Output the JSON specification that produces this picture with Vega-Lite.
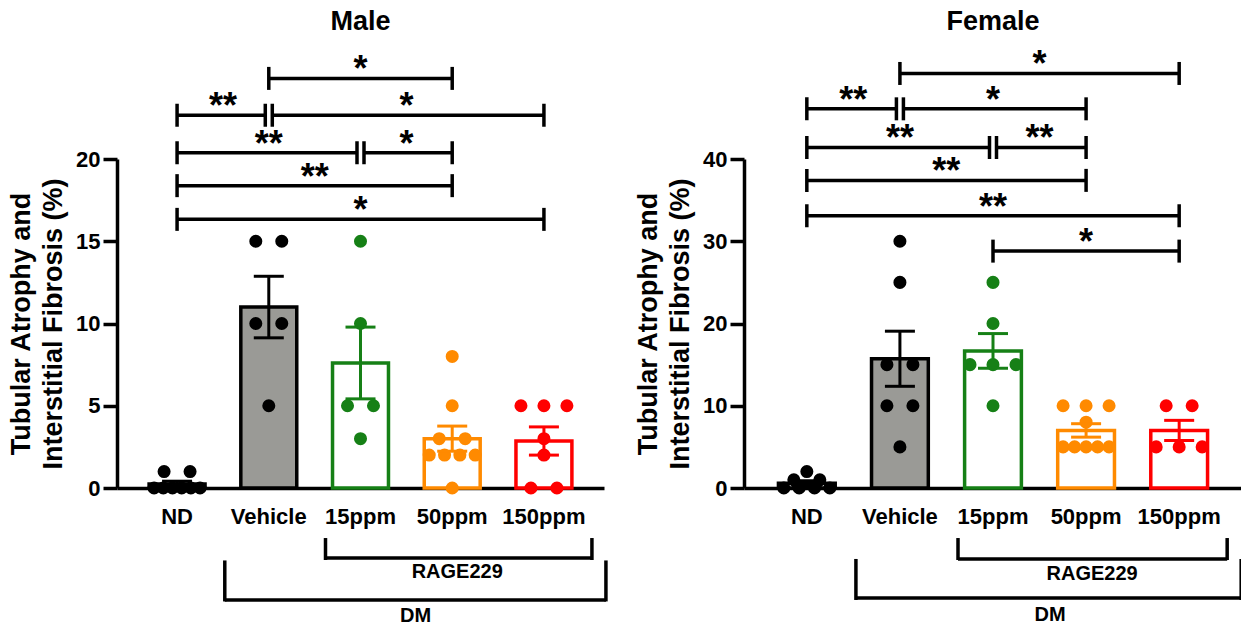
{
  "$schema": "https://vega.github.io/schema/vega-lite/v6.json",
  "background": "white",
  "padding": {"left": 7, "top": 8, "right": 0, "bottom": 0},
  "config": {
    "font": "Liberation Sans",
    "view": {"stroke": null},
    "axis": {"labelFont": "Liberation Sans", "labelFontWeight": "bold", "labelFontSize": 22, "labelColor": "black", "titleFont": "Liberation Sans", "titleFontWeight": "bold", "titleFontSize": 27, "titleColor": "black", "domainColor": "black", "domainWidth": 3.5, "tickColor": "black", "tickWidth": 3.5, "grid": false},
    "title": {"font": "Liberation Sans", "fontWeight": "bold", "fontSize": 27, "color": "black"},
    "concat": {"spacing": 26}
  },
  "datasets": {
    "maleDots": [
      {"group": "ND", "value": 1}, {"group": "ND", "value": 1}, {"group": "ND", "value": 0}, {"group": "ND", "value": 0}, {"group": "ND", "value": 0}, {"group": "ND", "value": 0}, {"group": "ND", "value": 0}, {"group": "ND", "value": 0},
      {"group": "Vehicle", "value": 15}, {"group": "Vehicle", "value": 15}, {"group": "Vehicle", "value": 10}, {"group": "Vehicle", "value": 10}, {"group": "Vehicle", "value": 5},
      {"group": "15ppm", "value": 15}, {"group": "15ppm", "value": 10}, {"group": "15ppm", "value": 5}, {"group": "15ppm", "value": 5}, {"group": "15ppm", "value": 3},
      {"group": "50ppm", "value": 8}, {"group": "50ppm", "value": 5}, {"group": "50ppm", "value": 3}, {"group": "50ppm", "value": 3}, {"group": "50ppm", "value": 2}, {"group": "50ppm", "value": 2}, {"group": "50ppm", "value": 2}, {"group": "50ppm", "value": 2}, {"group": "50ppm", "value": 0},
      {"group": "150ppm", "value": 5}, {"group": "150ppm", "value": 5}, {"group": "150ppm", "value": 5}, {"group": "150ppm", "value": 3}, {"group": "150ppm", "value": 2}, {"group": "150ppm", "value": 0}, {"group": "150ppm", "value": 0}
    ],
    "femaleDots": [
      {"group": "ND", "value": 2}, {"group": "ND", "value": 1}, {"group": "ND", "value": 1}, {"group": "ND", "value": 0}, {"group": "ND", "value": 0}, {"group": "ND", "value": 0}, {"group": "ND", "value": 0},
      {"group": "Vehicle", "value": 30}, {"group": "Vehicle", "value": 25}, {"group": "Vehicle", "value": 15}, {"group": "Vehicle", "value": 15}, {"group": "Vehicle", "value": 10}, {"group": "Vehicle", "value": 10}, {"group": "Vehicle", "value": 5},
      {"group": "15ppm", "value": 25}, {"group": "15ppm", "value": 20}, {"group": "15ppm", "value": 15}, {"group": "15ppm", "value": 15}, {"group": "15ppm", "value": 15}, {"group": "15ppm", "value": 10},
      {"group": "50ppm", "value": 10}, {"group": "50ppm", "value": 10}, {"group": "50ppm", "value": 10}, {"group": "50ppm", "value": 8}, {"group": "50ppm", "value": 5}, {"group": "50ppm", "value": 5}, {"group": "50ppm", "value": 5}, {"group": "50ppm", "value": 5}, {"group": "50ppm", "value": 5},
      {"group": "150ppm", "value": 10}, {"group": "150ppm", "value": 10}, {"group": "150ppm", "value": 5}, {"group": "150ppm", "value": 5}, {"group": "150ppm", "value": 5}
    ],
    "maleSig": [
      {"from": "Vehicle", "to": "50ppm", "level": 24.9, "sig": "*", "at": "15ppm"},
      {"from": "ND", "to": "Vehicle", "level": 22.66, "sig": "**", "after": "ND", "join": "to"},
      {"from": "Vehicle", "to": "150ppm", "level": 22.66, "sig": "*", "after": "15ppm", "join": "from"},
      {"from": "ND", "to": "15ppm", "level": 20.38, "sig": "**", "at": "Vehicle", "join": "to"},
      {"from": "15ppm", "to": "50ppm", "level": 20.38, "sig": "*", "after": "15ppm", "join": "from"},
      {"from": "ND", "to": "50ppm", "level": 18.38, "sig": "**", "after": "Vehicle"},
      {"from": "ND", "to": "150ppm", "level": 16.33, "sig": "*", "at": "15ppm"}
    ],
    "femaleSig": [
      {"from": "Vehicle", "to": "150ppm", "level": 50.4, "sig": "*", "after": "15ppm"},
      {"from": "ND", "to": "Vehicle", "level": 46.1, "sig": "**", "after": "ND", "join": "to"},
      {"from": "Vehicle", "to": "50ppm", "level": 46.1, "sig": "*", "at": "15ppm", "join": "from"},
      {"from": "ND", "to": "15ppm", "level": 41.4, "sig": "**", "at": "Vehicle", "join": "to"},
      {"from": "15ppm", "to": "50ppm", "level": 41.4, "sig": "**", "after": "15ppm", "join": "from"},
      {"from": "ND", "to": "50ppm", "level": 37.4, "sig": "**", "after": "Vehicle"},
      {"from": "ND", "to": "150ppm", "level": 33.1, "sig": "**", "at": "15ppm"},
      {"from": "15ppm", "to": "150ppm", "level": 28.8, "sig": "*", "at": "50ppm"}
    ]
  },
  "hconcat": [
    {
      "title": {"text": "Male", "offset": 16},
      "width": 487,
      "height": 329,
      "resolve": {"axis": {"x": "independent", "y": "independent"}, "scale": {"xOffset": "independent"}},
      "layer": [
        {
          "data": {"name": "maleDots"},
          "mark": {"type": "bar", "strokeWidth": 3.5, "width": {"band": 1}},
          "encoding": {
            "x": {"field": "group", "type": "nominal", "scale": {"domain": ["ND", "Vehicle", "15ppm", "50ppm", "150ppm"], "paddingInner": 0.39, "paddingOuter": 0.35}, "axis": {"title": null, "ticks": false, "tickSize": 0, "labelPadding": 18, "labelAngle": 0}},
            "y": {"aggregate": "mean", "field": "value", "type": "quantitative", "scale": {"domain": [0, 20], "nice": false}, "axis": {"values": [0, 5, 10, 15, 20], "title": ["Tubular Atrophy and", "Interstitial Fibrosis (%)"], "tickSize": 14, "labelPadding": 3, "titlePadding": 8, "titleLineHeight": 32}},
            "fill": {"field": "group", "type": "nominal", "scale": {"domain": ["ND", "Vehicle", "15ppm", "50ppm", "150ppm"], "range": ["#ffffff", "#9a9a96", "#ffffff", "#ffffff", "#ffffff"]}, "legend": null},
            "stroke": {"field": "group", "type": "nominal", "scale": {"domain": ["ND", "Vehicle", "15ppm", "50ppm", "150ppm"], "range": ["#000000", "#000000", "#168016", "#ff8a00", "#ff0000"]}, "legend": null}
          }
        },
        {
          "data": {"name": "maleDots"},
          "transform": [
            {"window": [{"op": "row_number", "as": "r"}], "groupby": ["group", "value"]},
            {"joinaggregate": [{"op": "count", "as": "k"}], "groupby": ["group", "value"]},
            {"calculate": "(datum.r - (datum.k + 1) / 2) * min(26, 46 / max(datum.k - 1, 0.0001))", "as": "jit"}
          ],
          "mark": {"type": "circle", "size": 170, "opacity": 1},
          "encoding": {
            "x": {"field": "group", "type": "nominal", "axis": null},
            "xOffset": {"field": "jit", "type": "quantitative", "scale": {"domain": [-28, 28], "nice": false, "zero": false}},
            "y": {"field": "value", "type": "quantitative", "axis": null},
            "color": {"field": "group", "type": "nominal", "scale": {"domain": ["ND", "Vehicle", "15ppm", "50ppm", "150ppm"], "range": ["#000000", "#000000", "#168016", "#ff8a00", "#ff0000"]}, "legend": null}
          }
        },
        {
          "data": {"name": "maleDots"},
          "mark": {"type": "errorbar", "extent": "stderr", "ticks": true, "size": 30, "thickness": 3, "opacity": 1},
          "encoding": {
            "x": {"field": "group", "type": "nominal", "axis": null},
            "y": {"field": "value", "type": "quantitative", "axis": null},
            "color": {"field": "group", "type": "nominal", "legend": null}
          }
        },
        {
          "data": {"name": "maleSig"},
          "mark": {"type": "rule", "strokeWidth": 3.5, "color": "black", "xOffset": {"expr": "datum.join === 'from' ? 3.5 : 0"}, "x2Offset": {"expr": "datum.join === 'to' ? -3.5 : 0"}},
          "encoding": {
            "x": {"field": "from", "type": "nominal", "axis": null},
            "x2": {"field": "to"},
            "y": {"field": "level", "type": "quantitative", "axis": null}
          }
        },
        {
          "data": {"name": "maleSig"},
          "mark": {"type": "tick", "orient": "vertical", "size": 23, "thickness": 3.5, "color": "black", "opacity": 1, "xOffset": {"expr": "datum.join === 'from' ? 3.5 : 0"}},
          "encoding": {
            "x": {"field": "from", "type": "nominal", "axis": null},
            "y": {"field": "level", "type": "quantitative", "axis": null}
          }
        },
        {
          "data": {"name": "maleSig"},
          "mark": {"type": "tick", "orient": "vertical", "size": 23, "thickness": 3.5, "color": "black", "opacity": 1, "xOffset": {"expr": "datum.join === 'to' ? -3.5 : 0"}},
          "encoding": {
            "x": {"field": "to", "type": "nominal", "axis": null},
            "y": {"field": "level", "type": "quantitative", "axis": null}
          }
        },
        {
          "data": {"name": "maleSig"},
          "transform": [{"filter": "isValid(datum.at)"}],
          "mark": {"type": "text", "fontSize": 36, "fontWeight": "bold", "baseline": "alphabetic", "dy": 3, "color": "black"},
          "encoding": {
            "x": {"field": "at", "type": "nominal", "axis": null},
            "y": {"field": "level", "type": "quantitative", "axis": null},
            "text": {"field": "sig"}
          }
        },
        {
          "data": {"name": "maleSig"},
          "transform": [{"filter": "isValid(datum.after)"}],
          "mark": {"type": "text", "fontSize": 36, "fontWeight": "bold", "baseline": "alphabetic", "dy": 3, "dx": 18, "color": "black"},
          "encoding": {
            "x": {"field": "after", "type": "nominal", "bandPosition": 1, "axis": null},
            "y": {"field": "level", "type": "quantitative", "axis": null},
            "text": {"field": "sig"}
          }
        },
        {
          "data": {"values": [{}]},
          "mark": {"type": "rule", "strokeWidth": 3.5, "color": "black", "xOffset": -35, "x2Offset": 48},
          "encoding": {
            "x": {"datum": "15ppm", "type": "nominal", "axis": null},
            "x2": {"datum": "150ppm"},
            "y": {"datum": -4.26, "type": "quantitative", "axis": null}
          }
        },
        {
          "data": {"values": [{}]},
          "mark": {"type": "tick", "orient": "vertical", "size": 22, "thickness": 3.5, "color": "black", "opacity": 1, "xOffset": -35},
          "encoding": {"x": {"datum": "15ppm", "type": "nominal", "axis": null}, "y": {"datum": -3.71, "type": "quantitative", "axis": null}}
        },
        {
          "data": {"values": [{}]},
          "mark": {"type": "tick", "orient": "vertical", "size": 22, "thickness": 3.5, "color": "black", "opacity": 1, "xOffset": 48},
          "encoding": {"x": {"datum": "150ppm", "type": "nominal", "axis": null}, "y": {"datum": -3.71, "type": "quantitative", "axis": null}}
        },
        {
          "data": {"values": [{}]},
          "mark": {"type": "text", "fontSize": 20, "fontWeight": "bold", "baseline": "middle", "dx": 5, "color": "black"},
          "encoding": {"x": {"datum": "50ppm", "type": "nominal", "axis": null}, "y": {"datum": -5.1, "type": "quantitative", "axis": null}, "text": {"value": "RAGE229"}}
        },
        {
          "data": {"values": [{}]},
          "mark": {"type": "rule", "strokeWidth": 3.5, "color": "black", "xOffset": -44, "x2Offset": 62},
          "encoding": {
            "x": {"datum": "Vehicle", "type": "nominal", "axis": null},
            "x2": {"datum": "150ppm"},
            "y": {"datum": -6.81, "type": "quantitative", "axis": null}
          }
        },
        {
          "data": {"values": [{}]},
          "mark": {"type": "tick", "orient": "vertical", "size": 41, "thickness": 3.5, "color": "black", "opacity": 1, "xOffset": -44},
          "encoding": {"x": {"datum": "Vehicle", "type": "nominal", "axis": null}, "y": {"datum": -5.65, "type": "quantitative", "axis": null}}
        },
        {
          "data": {"values": [{}]},
          "mark": {"type": "tick", "orient": "vertical", "size": 41, "thickness": 3.5, "color": "black", "opacity": 1, "xOffset": 62},
          "encoding": {"x": {"datum": "150ppm", "type": "nominal", "axis": null}, "y": {"datum": -5.65, "type": "quantitative", "axis": null}}
        },
        {
          "data": {"values": [{}]},
          "mark": {"type": "text", "fontSize": 20, "fontWeight": "bold", "baseline": "middle", "dx": 55, "color": "black"},
          "encoding": {"x": {"datum": "15ppm", "type": "nominal", "axis": null}, "y": {"datum": -7.8, "type": "quantitative", "axis": null}, "text": {"value": "DM"}}
        }
      ]
    },
    {
      "title": {"text": "Female", "offset": 11},
      "width": 498,
      "height": 329,
      "resolve": {"axis": {"x": "independent", "y": "independent"}, "scale": {"xOffset": "independent"}},
      "layer": [
        {
          "data": {"name": "femaleDots"},
          "mark": {"type": "bar", "strokeWidth": 3.5, "width": {"band": 1}},
          "encoding": {
            "x": {"field": "group", "type": "nominal", "scale": {"domain": ["ND", "Vehicle", "15ppm", "50ppm", "150ppm"], "paddingInner": 0.39, "paddingOuter": 0.37}, "axis": {"title": null, "ticks": false, "tickSize": 0, "labelPadding": 18, "labelAngle": 0}},
            "y": {"aggregate": "mean", "field": "value", "type": "quantitative", "scale": {"domain": [0, 40], "nice": false}, "axis": {"values": [0, 10, 20, 30, 40], "title": ["Tubular Atrophy and", "Interstitial Fibrosis (%)"], "tickSize": 14, "labelPadding": 3, "titlePadding": 8, "titleLineHeight": 32}},
            "fill": {"field": "group", "type": "nominal", "scale": {"domain": ["ND", "Vehicle", "15ppm", "50ppm", "150ppm"], "range": ["#ffffff", "#9a9a96", "#ffffff", "#ffffff", "#ffffff"]}, "legend": null},
            "stroke": {"field": "group", "type": "nominal", "scale": {"domain": ["ND", "Vehicle", "15ppm", "50ppm", "150ppm"], "range": ["#000000", "#000000", "#168016", "#ff8a00", "#ff0000"]}, "legend": null}
          }
        },
        {
          "data": {"name": "femaleDots"},
          "transform": [
            {"window": [{"op": "row_number", "as": "r"}], "groupby": ["group", "value"]},
            {"joinaggregate": [{"op": "count", "as": "k"}], "groupby": ["group", "value"]},
            {"calculate": "(datum.r - (datum.k + 1) / 2) * min(26, 46 / max(datum.k - 1, 0.0001))", "as": "jit"}
          ],
          "mark": {"type": "circle", "size": 170, "opacity": 1},
          "encoding": {
            "x": {"field": "group", "type": "nominal", "axis": null},
            "xOffset": {"field": "jit", "type": "quantitative", "scale": {"domain": [-28.4, 28.4], "nice": false, "zero": false}},
            "y": {"field": "value", "type": "quantitative", "axis": null},
            "color": {"field": "group", "type": "nominal", "scale": {"domain": ["ND", "Vehicle", "15ppm", "50ppm", "150ppm"], "range": ["#000000", "#000000", "#168016", "#ff8a00", "#ff0000"]}, "legend": null}
          }
        },
        {
          "data": {"name": "femaleDots"},
          "mark": {"type": "errorbar", "extent": "stderr", "ticks": true, "size": 30, "thickness": 3, "opacity": 1},
          "encoding": {
            "x": {"field": "group", "type": "nominal", "axis": null},
            "y": {"field": "value", "type": "quantitative", "axis": null},
            "color": {"field": "group", "type": "nominal", "legend": null}
          }
        },
        {
          "data": {"name": "femaleSig"},
          "mark": {"type": "rule", "strokeWidth": 3.5, "color": "black", "xOffset": {"expr": "datum.join === 'from' ? 3.5 : 0"}, "x2Offset": {"expr": "datum.join === 'to' ? -3.5 : 0"}},
          "encoding": {
            "x": {"field": "from", "type": "nominal", "axis": null},
            "x2": {"field": "to"},
            "y": {"field": "level", "type": "quantitative", "axis": null}
          }
        },
        {
          "data": {"name": "femaleSig"},
          "mark": {"type": "tick", "orient": "vertical", "size": 23, "thickness": 3.5, "color": "black", "opacity": 1, "xOffset": {"expr": "datum.join === 'from' ? 3.5 : 0"}},
          "encoding": {
            "x": {"field": "from", "type": "nominal", "axis": null},
            "y": {"field": "level", "type": "quantitative", "axis": null}
          }
        },
        {
          "data": {"name": "femaleSig"},
          "mark": {"type": "tick", "orient": "vertical", "size": 23, "thickness": 3.5, "color": "black", "opacity": 1, "xOffset": {"expr": "datum.join === 'to' ? -3.5 : 0"}},
          "encoding": {
            "x": {"field": "to", "type": "nominal", "axis": null},
            "y": {"field": "level", "type": "quantitative", "axis": null}
          }
        },
        {
          "data": {"name": "femaleSig"},
          "transform": [{"filter": "isValid(datum.at)"}],
          "mark": {"type": "text", "fontSize": 36, "fontWeight": "bold", "baseline": "alphabetic", "dy": 3, "color": "black"},
          "encoding": {
            "x": {"field": "at", "type": "nominal", "axis": null},
            "y": {"field": "level", "type": "quantitative", "axis": null},
            "text": {"field": "sig"}
          }
        },
        {
          "data": {"name": "femaleSig"},
          "transform": [{"filter": "isValid(datum.after)"}],
          "mark": {"type": "text", "fontSize": 36, "fontWeight": "bold", "baseline": "alphabetic", "dy": 3, "dx": 18, "color": "black"},
          "encoding": {
            "x": {"field": "after", "type": "nominal", "bandPosition": 1, "axis": null},
            "y": {"field": "level", "type": "quantitative", "axis": null},
            "text": {"field": "sig"}
          }
        },
        {
          "data": {"values": [{}]},
          "mark": {"type": "rule", "strokeWidth": 3.5, "color": "black", "xOffset": -35, "x2Offset": 48},
          "encoding": {
            "x": {"datum": "15ppm", "type": "nominal", "axis": null},
            "x2": {"datum": "150ppm"},
            "y": {"datum": -8.63, "type": "quantitative", "axis": null}
          }
        },
        {
          "data": {"values": [{}]},
          "mark": {"type": "tick", "orient": "vertical", "size": 22, "thickness": 3.5, "color": "black", "opacity": 1, "xOffset": -35},
          "encoding": {"x": {"datum": "15ppm", "type": "nominal", "axis": null}, "y": {"datum": -7.42, "type": "quantitative", "axis": null}}
        },
        {
          "data": {"values": [{}]},
          "mark": {"type": "tick", "orient": "vertical", "size": 22, "thickness": 3.5, "color": "black", "opacity": 1, "xOffset": 48},
          "encoding": {"x": {"datum": "150ppm", "type": "nominal", "axis": null}, "y": {"datum": -7.42, "type": "quantitative", "axis": null}}
        },
        {
          "data": {"values": [{}]},
          "mark": {"type": "text", "fontSize": 20, "fontWeight": "bold", "baseline": "middle", "dx": 6, "color": "black"},
          "encoding": {"x": {"datum": "50ppm", "type": "nominal", "axis": null}, "y": {"datum": -10.46, "type": "quantitative", "axis": null}, "text": {"value": "RAGE229"}}
        },
        {
          "data": {"values": [{}]},
          "mark": {"type": "rule", "strokeWidth": 3.5, "color": "black", "xOffset": -44, "x2Offset": 62},
          "encoding": {
            "x": {"datum": "Vehicle", "type": "nominal", "axis": null},
            "x2": {"datum": "150ppm"},
            "y": {"datum": -13.37, "type": "quantitative", "axis": null}
          }
        },
        {
          "data": {"values": [{}]},
          "mark": {"type": "tick", "orient": "vertical", "size": 41, "thickness": 3.5, "color": "black", "opacity": 1, "xOffset": -44},
          "encoding": {"x": {"datum": "Vehicle", "type": "nominal", "axis": null}, "y": {"datum": -11.12, "type": "quantitative", "axis": null}}
        },
        {
          "data": {"values": [{}]},
          "mark": {"type": "tick", "orient": "vertical", "size": 41, "thickness": 3.5, "color": "black", "opacity": 1, "xOffset": 62},
          "encoding": {"x": {"datum": "150ppm", "type": "nominal", "axis": null}, "y": {"datum": -11.12, "type": "quantitative", "axis": null}}
        },
        {
          "data": {"values": [{}]},
          "mark": {"type": "text", "fontSize": 20, "fontWeight": "bold", "baseline": "middle", "dx": 57, "color": "black"},
          "encoding": {"x": {"datum": "15ppm", "type": "nominal", "axis": null}, "y": {"datum": -15.4, "type": "quantitative", "axis": null}, "text": {"value": "DM"}}
        }
      ]
    }
  ]
}
